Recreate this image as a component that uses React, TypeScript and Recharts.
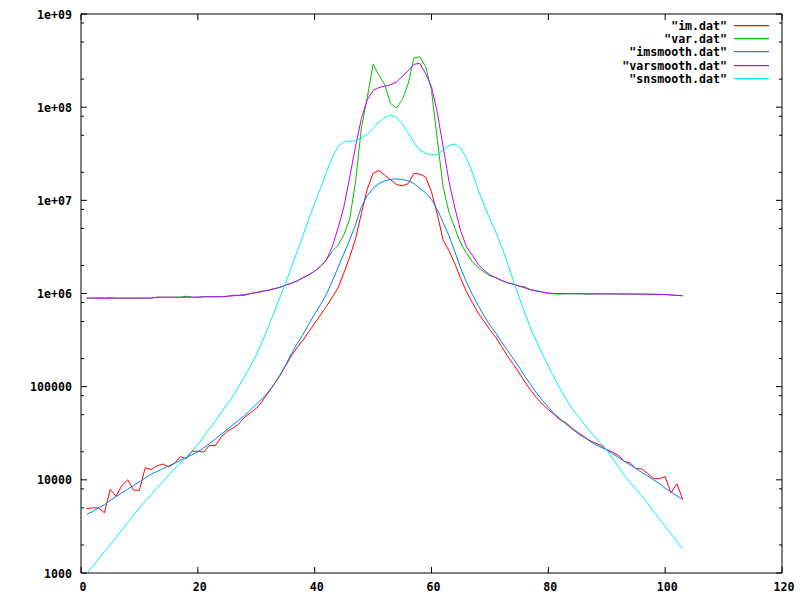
import { LineChart, Line, XAxis, YAxis, ReferenceArea, Legend } from "recharts";

const FONT = "'DejaVu Sans Mono', 'Liberation Mono', monospace";
const PLOT_W = 701;
const PLOT_H = 559;

// sample index of every .dat row
const xs = Array.from({ length: 103 }, (_, i) => i + 1);

const imDat = [
  4900, 5010, 5000, 4430, 7870, 6670, 8710, 10000, 7740, 7740,
  13500, 12900, 14100, 14800, 13800, 15000, 17700, 16800, 20300, 20300,
  19800, 23500, 23300, 28800, 33100, 35900, 39800, 46800, 52500, 58200,
  69200, 85100, 104700, 131800, 166000, 213800, 263000, 316200, 389000, 478600,
  588800, 724400, 912000, 1148000, 1660000, 2455000, 3890000, 7244000, 13180000, 19500000,
  20900000, 18600000, 16600000, 14800000, 14300000, 15100000, 19500000, 19100000, 17800000, 12300000,
  7080000, 3720000, 2880000, 2090000, 1445000, 1047000, 794000, 617000, 501000, 407000,
  339000, 269000, 214000, 174000, 141000, 112000, 91200, 75900, 64600, 56800,
  50100, 44100, 41200, 36100, 32400, 29400, 26600, 24900, 23300, 21100,
  19800, 18200, 15800, 15200, 13200, 13100, 11700, 10300, 10300, 10800,
  7240, 9060, 6170,
];

const varDat = [
  891000, 891000, 905000, 891000, 905000, 891000, 891000, 891000, 891000, 891000,
  891000, 891000, 912000, 912000, 912000, 912000, 912000, 935000, 912000, 912000,
  923000, 923000, 923000, 923000, 933000, 960000, 955000, 950000, 1000000, 1023000,
  1060000, 1084000, 1122000, 1161000, 1230000, 1288000, 1365000, 1479000, 1585000, 1738000,
  1950000, 2291000, 2818000, 3311000, 4266000, 6310000, 15850000, 60260000, 125900000, 288400000,
  221300000, 173800000, 109600000, 97720000, 120200000, 177800000, 338800000, 346700000, 272300000, 151400000,
  44670000, 13800000, 7413000, 5012000, 3467000, 2692000, 2188000, 1905000, 1698000, 1549000,
  1479000, 1380000, 1303000, 1259000, 1202000, 1175000, 1096000, 1075000, 1035000, 1000000,
  993000, 985000, 995000, 995000, 995000, 993000, 980000, 992000, 992000, 990000,
  990000, 990000, 980000, 988000, 985000, 985000, 982000, 980000, 978000, 975000,
  965000, 955000, 945000,
];

const imSmooth = [
  4270, 4570, 5010, 5370, 6030, 6610, 7240, 7940, 8710, 9550,
  10500, 11500, 12300, 13200, 14100, 15100, 16200, 17400, 18600, 20000,
  21900, 24500, 27500, 30900, 34700, 38900, 43700, 49000, 56200, 64600,
  74100, 87100, 104700, 128800, 169800, 223900, 288400, 363100, 467700, 602600,
  758600, 977200, 1349000, 1905000, 2692000, 3758000, 5495000, 8511000, 11220000, 13490000,
  15140000, 16220000, 16790000, 16980000, 16790000, 16220000, 15140000, 13490000, 12020000, 10230000,
  7943000, 5754000, 4169000, 2818000, 1862000, 1318000, 977200, 741300, 575400, 457100,
  375800, 302000, 245500, 199500, 162200, 128800, 104700, 85100, 70800, 60300,
  51300, 45200, 39800, 35500, 31600, 28800, 26300, 24000, 22400, 20900,
  19100, 17400, 15800, 14500, 13200, 12000, 11000, 10000, 9120, 8130,
  7410, 6760, 6170,
];

const varSmooth = [
  891000, 891000, 891000, 891000, 891000, 891000, 891000, 891000, 891000, 891000,
  891000, 891000, 912000, 912000, 912000, 912000, 912000, 912000, 912000, 912000,
  923000, 923000, 923000, 923000, 933000, 944000, 955000, 977000, 1000000, 1023000,
  1047000, 1084000, 1122000, 1161000, 1230000, 1288000, 1365000, 1479000, 1585000, 1738000,
  1950000, 2291000, 3162000, 5012000, 8511000, 17780000, 38020000, 75860000, 120200000, 151400000,
  162200000, 167900000, 173800000, 186200000, 213800000, 245500000, 288400000, 295100000, 229100000, 166000000,
  87100000, 37150000, 15850000, 8318000, 4677000, 3162000, 2570000, 2042000, 1778000, 1585000,
  1479000, 1380000, 1303000, 1259000, 1202000, 1148000, 1096000, 1059000, 1035000, 1012000,
  1000000, 1000000, 995000, 995000, 995000, 993000, 993000, 992000, 992000, 990000,
  990000, 990000, 988000, 988000, 985000, 985000, 982000, 980000, 978000, 975000,
  965000, 955000, 945000,
];

const snSmooth = [
  1000, 1175, 1413, 1698, 1995, 2399, 2884, 3467, 4169, 5012,
  5888, 6918, 8128, 9550, 11220, 13180, 15140, 17380, 20420, 23990,
  28840, 35480, 42660, 52480, 64570, 79430, 100000, 128800, 166000, 218800,
  302000, 426600, 616600, 891300, 1288000, 1905000, 2818000, 4169000, 6310000, 9333000,
  13490000, 19950000, 28840000, 38020000, 42170000, 43150000, 43650000, 46770000, 51290000, 58880000,
  69180000, 77620000, 82220000, 77620000, 66070000, 52480000, 41690000, 34670000, 31990000, 30900000,
  30900000, 34670000, 38900000, 40270000, 36310000, 28180000, 19950000, 12880000, 8913000, 6310000,
  4571000, 3162000, 2138000, 1380000, 912000, 616600, 416900, 302000, 223900, 166000,
  125900, 95500, 74130, 58880, 48980, 40740, 33880, 28840, 24550, 20890,
  16980, 13800, 11220, 9333, 7943, 6761, 5623, 4571, 3802, 3162,
  2630, 2188, 1820,
];

const seriesKeys = ["im", "var", "imsmooth", "varsmooth", "snsmooth"];
const seriesNames = ['"im.dat"', '"var.dat"', '"imsmooth.dat"', '"varsmooth.dat"', '"snsmooth.dat"'];
const seriesColors = ["#ff0000", "#00c000", "#0080ff", "#c000ff", "#00eeee"];

const xTicks = [0, 20, 40, 60, 80, 100, 120];
const yMajor = [1000, 10000, 100000, 1e6, 1e7, 1e8, 1e9];
const yMajorLabels = ["1000", "10000", "100000", "1e+06", "1e+07", "1e+08", "1e+09"];
const yMinor = [
  2000, 5000, 8000, 20000, 50000, 80000, 200000, 500000, 800000,
  2e6, 5e6, 8e6, 2e7, 5e7, 8e7, 2e8, 5e8, 8e8,
];

const chartData = xs.map((x, i) => ({
  x,
  im: imDat[i],
  var: varDat[i],
  imsmooth: imSmooth[i],
  varsmooth: varSmooth[i],
  snsmooth: snSmooth[i],
}));

const labelStyle = {
  fontFamily: FONT,
  fontWeight: 700,
  fontSize: 11.6,
  fill: "#000",
};

function YTick(props: any) {
  const { x, y, payload } = props;
  const idx = yMajor.indexOf(payload.value);
  const len = idx >= 0 ? 6 : 3;
  return (
    <g>
      <line x1={x} x2={x + len} y1={y} y2={y} stroke="#000" />
      <line x1={x + PLOT_W} x2={x + PLOT_W - len} y1={y} y2={y} stroke="#000" />
      {idx >= 0 && (
        <text x={x - 9} y={y + 4.5} textAnchor="end" {...labelStyle}>
          {yMajorLabels[idx]}
        </text>
      )}
    </g>
  );
}

function XTick(props: any) {
  const { x, y, payload } = props;
  return (
    <g>
      <line x1={x} x2={x} y1={y} y2={y - 6} stroke="#000" />
      <line x1={x} x2={x} y1={y - PLOT_H} y2={y - PLOT_H + 6} stroke="#000" />
      <text x={x + 2} y={y + 18} textAnchor="middle" {...labelStyle}>
        {payload.value}
      </text>
    </g>
  );
}

function KeyBox() {
  return (
    <svg width={800} height={90} style={{ display: "block" }}>
      {seriesNames.map((name, i) => {
        const cy = Math.round(25 + i * 13.2);
        return (
          <g key={name}>
            <text x={727} y={cy + 4.5} textAnchor="end" {...labelStyle}>
              {name}
            </text>
            <rect x={734} y={cy} width={35} height={1.2} fill={seriesColors[i]} />
          </g>
        );
      })}
    </svg>
  );
}

export default function App() {
  return (
    <div
      style={{
        position: "fixed",
        left: 0,
        top: 0,
        width: 800,
        height: 600,
        background: "#fff",
      }}
    >
      <LineChart
        width={800}
        height={600}
        data={chartData}
        margin={{ top: 14, right: 18, bottom: 0, left: 0 }}
      >
        <XAxis
          dataKey="x"
          type="number"
          domain={[0, 120]}
          ticks={xTicks}
          interval={0}
          height={27}
          axisLine={false}
          tickLine={false}
          tickSize={0}
          tickMargin={0}
          tick={(p: any) => <XTick {...p} />}
        />
        <YAxis
          type="number"
          scale="log"
          domain={[1000, 1e9]}
          allowDataOverflow
          ticks={[...yMajor, ...yMinor]}
          interval={0}
          width={81}
          axisLine={false}
          tickLine={false}
          tickSize={0}
          tickMargin={0}
          tick={(p: any) => <YTick {...p} />}
        />
        <ReferenceArea
          x1={0}
          x2={120}
          y1={1000}
          y2={1e9}
          fill="none"
          stroke="#000"
          strokeWidth={1}
          ifOverflow="visible"
        />
        {seriesKeys.map((key, i) => (
          <Line
            key={key}
            type="linear"
            dataKey={key}
            name={seriesNames[i]}
            stroke={seriesColors[i]}
            strokeWidth={1}
            dot={false}
            activeDot={false}
            isAnimationActive={false}
          />
        ))}
        <Legend
          verticalAlign="middle"
          layout="horizontal"
          content={() => <KeyBox />}
          wrapperStyle={{
            position: "absolute",
            top: 0,
            left: 0,
            width: 800,
            height: 90,
            pointerEvents: "none",
          }}
        />
      </LineChart>
    </div>
  );
}
